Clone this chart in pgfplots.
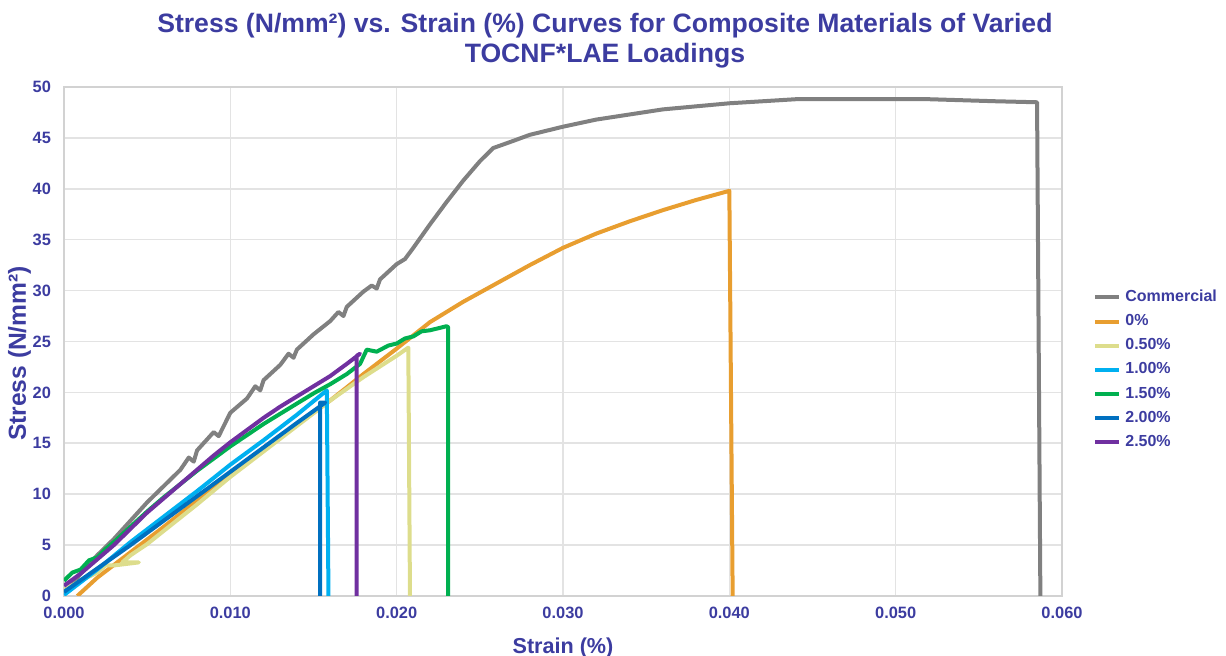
\documentclass[border=0pt]{standalone}
\usepackage{pgfplots}
\pgfplotsset{compat=1.18}
\usepackage{fontspec}
\setmainfont{Liberation Sans}

\definecolor{txtblue}{RGB}{60,60,160}
\definecolor{ccomm}{RGB}{128,128,128}
\definecolor{czero}{RGB}{232,158,48}
\definecolor{chalf}{RGB}{221,221,140}
\definecolor{cone}{RGB}{0,176,240}
\definecolor{conefive}{RGB}{0,176,80}
\definecolor{ctwo}{RGB}{0,112,192}
\definecolor{ctwofive}{RGB}{112,48,160}

\begin{document}
\begin{tikzpicture}
\begin{axis}[
    name=main,
    scale only axis,
    width=499pt, height=254.5pt,
    xmin=0, xmax=0.06, ymin=0, ymax=50,
    xtick={0,0.01,...,0.06}, ytick={0,5,...,50},
    scaled x ticks=false,
    /pgf/number format/assume math mode=true,
    ticklabel style={font=\bfseries\fontsize{8.2}{9}\selectfont, text=txtblue},
    xticklabel style={yshift=-2pt, /pgf/number format/.cd, fixed, fixed zerofill, precision=3},
    yticklabel style={xshift=-3pt},
    major tick length=0pt,
    grid=major,
    grid style={draw=gray!22, line width=0.8pt},
    axis line style={draw=gray!35, line width=0.8pt},
    title={Stress (N/mm²) vs. Strain (\%) Curves for Composite Materials of Varied\\TOCNF*LAE Loadings},
    title style={at={(0.542,1)}, anchor=south, yshift=0pt, align=center,
        font=\bfseries\fontsize{13.3}{15}\selectfont, text=txtblue},
    xlabel={Strain (\%)},
    ylabel={Stress (N/mm²)},
    xlabel style={font=\bfseries\fontsize{10.8}{12}\selectfont, text=txtblue, yshift=-2.5pt},
    ylabel style={font=\bfseries\fontsize{12.3}{13}\selectfont, text=txtblue, yshift=-6pt, xshift=-6pt},
    legend style={at={(1.025,0.618)}, anchor=north west, draw=none, fill=none,
        font=\bfseries\fontsize{8}{8.5}\selectfont, text=txtblue, row sep=1.0pt},
    legend cell align=left,
    legend image code/.code={\draw[#1, line width=2pt] (0pt,0pt) -- (12pt,0pt);},
    every axis plot/.append style={line width=2pt, line join=round},
]
\addplot[ccomm] coordinates {
(0.0002,0.5) (0.001,2.2) (0.002,4.0) (0.003,5.6) (0.004,7.4) (0.005,9.2)
(0.006,10.8) (0.007,12.4) (0.0075,13.6) (0.0078,13.2) (0.008,14.3) (0.009,16.1)
(0.0093,15.7) (0.010,18.0) (0.011,19.4) (0.0115,20.6) (0.0118,20.2) (0.012,21.2)
(0.013,22.7) (0.0135,23.8) (0.0138,23.4) (0.014,24.2) (0.015,25.7) (0.016,27.0)
(0.0165,27.9) (0.0168,27.5) (0.017,28.4) (0.018,29.9) (0.0185,30.5) (0.0188,30.2)
(0.019,31.1) (0.020,32.6) (0.0205,33.1) (0.021,34.2) (0.022,36.5) (0.023,38.7)
(0.024,40.8) (0.025,42.7) (0.0258,44.0) (0.027,44.7) (0.028,45.3) (0.030,46.1)
(0.032,46.8) (0.034,47.3) (0.036,47.8) (0.038,48.1) (0.040,48.4) (0.042,48.6)
(0.044,48.8) (0.046,48.8) (0.048,48.8) (0.050,48.8) (0.052,48.8) (0.054,48.7)
(0.056,48.6) (0.0585,48.5) (0.0587,0)
};
\addlegendentry{Commercial}
\addplot[czero] coordinates {
(0.0008,0) (0.002,1.8) (0.004,4.3) (0.006,6.8) (0.008,9.4) (0.010,11.9)
(0.012,14.4) (0.014,16.8) (0.016,19.2) (0.018,21.8) (0.020,24.3) (0.022,26.9)
(0.024,28.9) (0.026,30.7) (0.028,32.5) (0.030,34.2) (0.032,35.6) (0.034,36.8)
(0.036,37.9) (0.038,38.9) (0.040,39.8) (0.0402,0)
};
\addlegendentry{0\%}
\addplot[chalf] coordinates {
(0.0,0.6) (0.001,1.5) (0.002,2.3) (0.0025,3.0) (0.003,3.0) (0.0045,3.3)
(0.0035,3.3) (0.004,4.0) (0.005,5.1) (0.006,6.4) (0.008,9.0) (0.010,11.7)
(0.012,14.2) (0.014,16.7) (0.016,19.2) (0.018,21.5) (0.020,23.6) (0.0207,24.4)
(0.0208,0)
};
\addlegendentry{0.50\%}
\addplot[cone] coordinates {
(0.0,0.1) (0.002,2.6) (0.004,5.3) (0.006,7.8) (0.008,10.3) (0.010,12.9)
(0.012,15.3) (0.014,17.8) (0.0158,20.2) (0.0159,0)
};
\addlegendentry{1.00\%}
\addplot[conefive] coordinates {
(0.0,1.5) (0.0005,2.3) (0.001,2.6) (0.0015,3.5) (0.002,3.8) (0.0025,4.6)
(0.003,5.3) (0.004,6.8) (0.005,8.3) (0.006,9.7) (0.007,11.0) (0.008,12.3)
(0.009,13.5) (0.010,14.7) (0.011,15.8) (0.012,16.9) (0.013,17.9) (0.014,18.9)
(0.015,19.9) (0.016,20.8) (0.017,21.8) (0.0178,22.8) (0.0182,24.2) (0.0188,24.0)
(0.0195,24.6) (0.020,24.8) (0.0205,25.3) (0.021,25.5) (0.0215,26.0) (0.022,26.1)
(0.0225,26.3) (0.023,26.5) (0.0231,26.4) (0.0231,0)
};
\addlegendentry{1.50\%}
\addplot[ctwo] coordinates {
(0.0,0.4) (0.002,2.7) (0.004,5.0) (0.006,7.4) (0.008,9.8) (0.010,12.2)
(0.012,14.6) (0.014,17.0) (0.0152,18.4) (0.0157,19.0) (0.0154,19.0) (0.0154,0)
};
\addlegendentry{2.00\%}
\addplot[ctwofive] coordinates {
(0.0,1.0) (0.001,2.2) (0.002,3.6) (0.003,5.0) (0.004,6.6) (0.005,8.2)
(0.006,9.6) (0.007,11.0) (0.008,12.4) (0.009,13.8) (0.010,15.1) (0.011,16.3)
(0.012,17.5) (0.013,18.6) (0.014,19.6) (0.015,20.6) (0.016,21.6) (0.017,22.8)
(0.0178,23.8) (0.0176,23.6) (0.0176,0)
};
\addlegendentry{2.50\%}
\end{axis}
\pgfresetboundingbox
\path (main.south west) ++(-32pt,-30pt) rectangle ++(613pt,328pt);
\end{tikzpicture}
\end{document}
